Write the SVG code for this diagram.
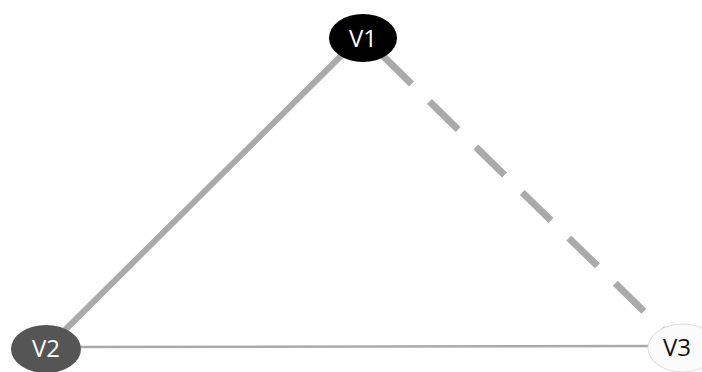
<svg xmlns="http://www.w3.org/2000/svg" width="702" height="372" viewBox="0 0 702 372">
<style>
.lbl{font-family:"Open Sans","Liberation Sans",sans-serif;font-size:24px;text-anchor:middle;dominant-baseline:central}
.e{stroke:#aaaaaa;fill:none}
</style>
<rect width="702" height="372" fill="#ffffff"/>
<g id="connectors">
<line class="e" x1="345" y1="52" x2="60" y2="335" stroke-width="6"/>
<line class="e" x1="383" y1="56" x2="668" y2="335" stroke-width="7" stroke-dasharray="40,25"/>
<line class="e" x1="70" y1="347" x2="650" y2="346" stroke-width="2.5" stroke="#999999"/>
</g>
<g id="V1">
<ellipse cx="363" cy="38" rx="34" ry="24" fill="#000000"/>
<text class="lbl" x="363" y="37" fill="#ffffff">V1</text>
</g>
<g id="V2">
<ellipse cx="46" cy="349" rx="35" ry="24" fill="#555555"/>
<text class="lbl" x="46" y="347" fill="#ffffff">V2</text>
</g>
<g id="V3">
<ellipse cx="683" cy="348" rx="35" ry="24" fill="#fbfbfb" stroke="#dddddd" stroke-width="1"/>
<text class="lbl" x="677" y="346" fill="#111111">V3</text>
</g>
</svg>
